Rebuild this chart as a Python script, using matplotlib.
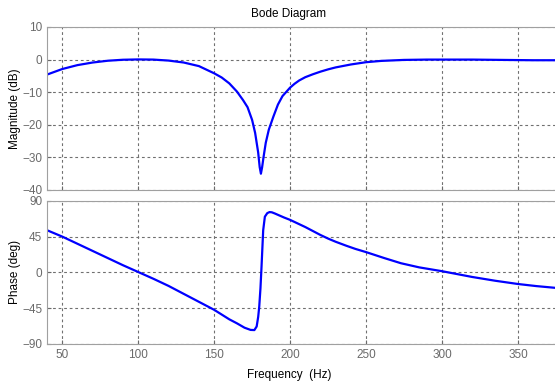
import matplotlib
matplotlib.use('Agg')
import matplotlib.pyplot as plt

# magnitude
freq_mag = [40, 50, 60, 70, 80, 90, 100, 110, 120, 130, 140, 150, 155, 160,
            165, 169, 172, 175, 177, 179, 180, 180.8, 181.6, 182.5, 184, 186,
            189, 192, 195, 200, 203, 206, 210, 215, 220, 225, 230, 240, 250,
            260, 275, 290, 320, 340, 360, 375]
mag_db = [-4.6, -2.9, -1.7, -0.9, -0.35, -0.05, 0.05, 0.0, -0.3, -0.9, -2.0,
          -4.2, -5.5, -7.3, -9.8, -12.4, -14.6, -18.5, -22.5, -28.5, -33.0,
          -35.0, -33.0, -30.0, -25.5, -21.5, -17.5, -13.8, -11.2, -8.6, -7.4,
          -6.4, -5.4, -4.5, -3.7, -3.0, -2.4, -1.5, -0.8, -0.4, -0.1, 0.0,
          0.0, -0.1, -0.2, -0.2]

# phase
freq_ph = [40, 50, 60, 70, 80, 90, 100, 110, 120, 130, 140, 150, 160, 165,
           170, 174, 176.5, 178, 179, 179.7, 180.5, 181.2, 182.3, 183.4, 185,
           186.5, 188, 190, 193, 196, 200, 205, 210, 215, 220, 225, 230, 237,
           243, 250, 262, 273, 285, 300, 320, 335, 350, 362, 375]
phase_deg = [53, 45, 36, 27, 18, 9, 0.5, -8, -17, -27, -37, -47, -59, -64,
             -69.5, -72.3, -72.5, -68, -56, -43, -20, 7, 53, 70, 74.5, 75.8,
             75.5, 74, 71.5, 69, 66, 61.5, 57, 52, 47, 42.5, 38.5, 33.5, 29.5,
             25.5, 18, 11.5, 6.3, 1.5, -5.8, -10.5, -14.6, -17.2, -19.5]

plt.rcParams['font.family'] = ['Liberation Sans', 'DejaVu Sans']
plt.rcParams['font.size'] = 8

fig = plt.figure(figsize=(5.55, 3.85), dpi=100)
ax1 = fig.add_axes([0.0847, 0.5065, 0.917, 0.4234])
ax2 = fig.add_axes([0.0847, 0.1065, 0.917, 0.372])

line_color = '#0000ff'
tick_color = '#6a6a6a'

ax1.plot(freq_mag, mag_db, color=line_color, lw=1.6)
ax2.plot(freq_ph, phase_deg, color=line_color, lw=1.6)

ax1.set_ylim(-40, 10)
ax1.set_yticks([10, 0, -10, -20, -30, -40])
ax2.set_ylim(-90, 90)
ax2.set_yticks([90, 45, 0, -45, -90])

for ax in (ax1, ax2):
    ax.set_xlim(40, 375)
    ax.set_xticks([50, 100, 150, 200, 250, 300, 350])
    ax.grid(True, color='#707070', linestyle=(0, (2.5, 2.5)), linewidth=0.8)
    ax.tick_params(direction='in', length=3, colors=tick_color,
                   labelcolor=tick_color, labelsize=8.5)
    for side in ('top', 'bottom', 'left'):
        ax.spines[side].set_color('#a0a0a0')
    ax.spines['right'].set_visible(False)

ax1.tick_params(labelbottom=False)

ax1.set_ylabel('Magnitude (dB)', fontsize=8.5)
ax2.set_ylabel('Phase (deg)', fontsize=8.5)
ax1.yaxis.set_label_coords(-0.052, 0.5)
ax2.yaxis.set_label_coords(-0.052, 0.5)

fig.text(289 / 555, 1 - 14 / 385, 'Bode Diagram', ha='center', va='center',
         fontsize=8.5)
fig.text(289 / 555, 1 - 375 / 385, 'Frequency  (Hz)', ha='center',
         va='center', fontsize=8.5)

fig.savefig('out.png', dpi=100)
